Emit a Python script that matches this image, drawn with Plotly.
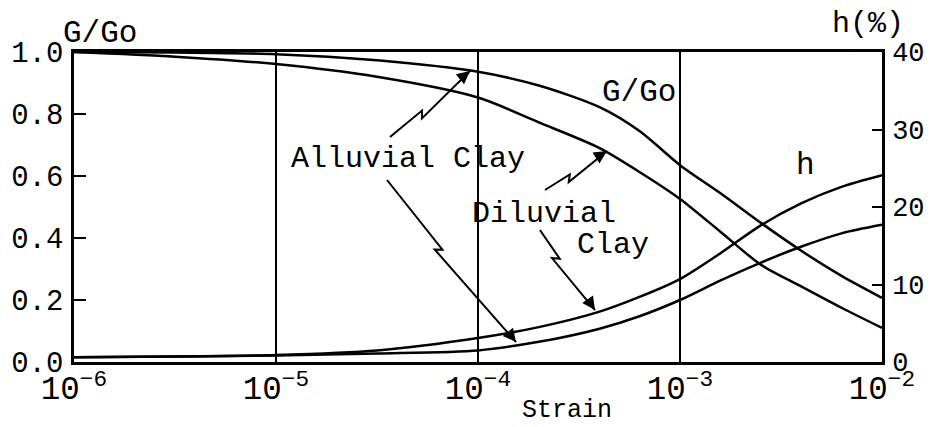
import math
import plotly.graph_objects as go

# strain values (log spaced read points) and curves
strain = [1e-6, 3.16e-6, 1e-5, 3.16e-5, 1e-4, 2e-4, 4e-4, 6.3e-4, 1e-3,
          1.58e-3, 2.5e-3, 4e-3, 6.3e-3, 1e-2]
g_alluvial = [1.0, 0.998, 0.993, 0.973, 0.936, 0.892, 0.822, 0.745, 0.635,
              0.545, 0.45, 0.358, 0.278, 0.207]
g_diluvial = [1.0, 0.985, 0.961, 0.92, 0.853, 0.773, 0.69, 0.613, 0.526,
              0.421, 0.315, 0.243, 0.175, 0.11]
h_diluvial = [0.6, 0.7, 0.9, 1.5, 3.1, 4.5, 6.5, 8.4, 10.7,
              14.0, 17.6, 20.5, 22.6, 24.1]
h_alluvial = [0.6, 0.7, 0.85, 1.1, 1.5, 2.6, 4.3, 5.9, 8.0,
              10.5, 12.8, 14.9, 16.6, 17.7]

FONT = "Liberation Mono"
OFF = 8  # default body margin of the html page
W, H = 934 - OFF, 427 - OFF
L, R, T, B = 66, 52, 44, 65
PW, PH = W - L - R, H - T - B


def paper(px, py):
    # page pixel -> paper coordinates
    return (px - OFF - L) / PW, (H - B - (py - OFF)) / PH


fig = go.Figure()
line = dict(color="black", width=2.5, shape="spline", smoothing=0.8)
fig.add_trace(go.Scatter(x=strain, y=g_alluvial, mode="lines", line=line, name="G/Go alluvial"))
fig.add_trace(go.Scatter(x=strain, y=g_diluvial, mode="lines", line=line, name="G/Go diluvial"))
fig.add_trace(go.Scatter(x=strain, y=h_diluvial, mode="lines", line=line, name="h diluvial", yaxis="y2"))
fig.add_trace(go.Scatter(x=strain, y=h_alluvial, mode="lines", line=line, name="h alluvial", yaxis="y2"))

# zigzag pointer arrows (start pixel, tip pixel, where the kink sits)
arrows = [((390, 137), (470, 71), 0.4),
          ((387, 180), (516, 342), 0.43),
          ((545, 190), (607, 151), 0.4),
          ((540, 230), (595, 310), 0.36)]
shapes = []
annotations = []
for (ax_, ay_), (bx, by), f in arrows:
    dx, dy = bx - ax_, by - ay_
    d = math.hypot(dx, dy)
    ux, uy = dx / d, dy / d
    nx, ny = -uy, ux
    px_, py_ = ax_ + f * dx, ay_ + f * dy
    qx, qy = px_ + nx * 6 - ux * 5, py_ + ny * 6 - uy * 5
    pts = [paper(ax_, ay_), paper(px_, py_), paper(qx, qy), paper(bx, by)]
    path = "M " + " L ".join(f"{x:.4f},{y:.4f}" for x, y in pts)
    shapes.append(dict(type="path", path=path, xref="paper", yref="paper",
                       line=dict(color="black", width=2)))
    tx, ty = paper(bx, by)
    annotations.append(dict(x=tx, y=ty, xref="paper", yref="paper", text="",
                            showarrow=True, arrowhead=2, arrowsize=1.3, arrowwidth=2,
                            arrowcolor="black", ax=-ux * 14, ay=-uy * 14, standoff=0))


def label(text, px, py, size=29, anchor="center"):
    x, y = paper(px, py)
    annotations.append(dict(x=x, y=y, xref="paper", yref="paper", text=text,
                            showarrow=False, xanchor=anchor, yanchor="middle",
                            font=dict(family=FONT, size=size, color="black")))


label("G/Go", 100, 34, 31)
label("h(%)", 868, 24, 30)
label("G/Go", 639, 92, 31)
label("h", 805, 165, 31)
label("Alluvial Clay", 289, 159, 30, "left")
label("Diluvial", 470, 214, 30, "left")
label("Clay", 575, 245, 30, "left")
label("Strain", 567, 410, 25)

fig.update_layout(
    width=W, height=H,
    margin=dict(l=L, r=R, t=T, b=B),
    plot_bgcolor="white", paper_bgcolor="white",
    showlegend=False,
    shapes=shapes,
    annotations=annotations,
    xaxis=dict(type="log", range=[-6, -2], dtick=1, exponentformat="power",
               showgrid=True, gridcolor="black", gridwidth=2,
               showline=True, linecolor="black", linewidth=2.5, mirror=True,
               ticks="", zeroline=False, ticklabelstandoff=-3, automargin=False,
               tickfont=dict(family=FONT, size=26, color="black")),
    yaxis=dict(range=[0, 1.0], dtick=0.2, tickformat=".1f",
               ticks="inside", ticklen=12, tickwidth=2, tickcolor="black",
               showline=True, linecolor="black", linewidth=2.5,
               showgrid=False, zeroline=False, ticklabelstandoff=2, automargin=False,
               tickfont=dict(family=FONT, size=29, color="black")),
    yaxis2=dict(range=[0, 40], dtick=10, overlaying="y", side="right",
                ticks="inside", ticklen=10, tickwidth=2, tickcolor="black",
                showline=True, linecolor="black", linewidth=2.5,
                showgrid=False, zeroline=False, ticklabelstandoff=2, automargin=False,
                tickfont=dict(family=FONT, size=27, color="black")),
)

fig.write_html("out.html")
